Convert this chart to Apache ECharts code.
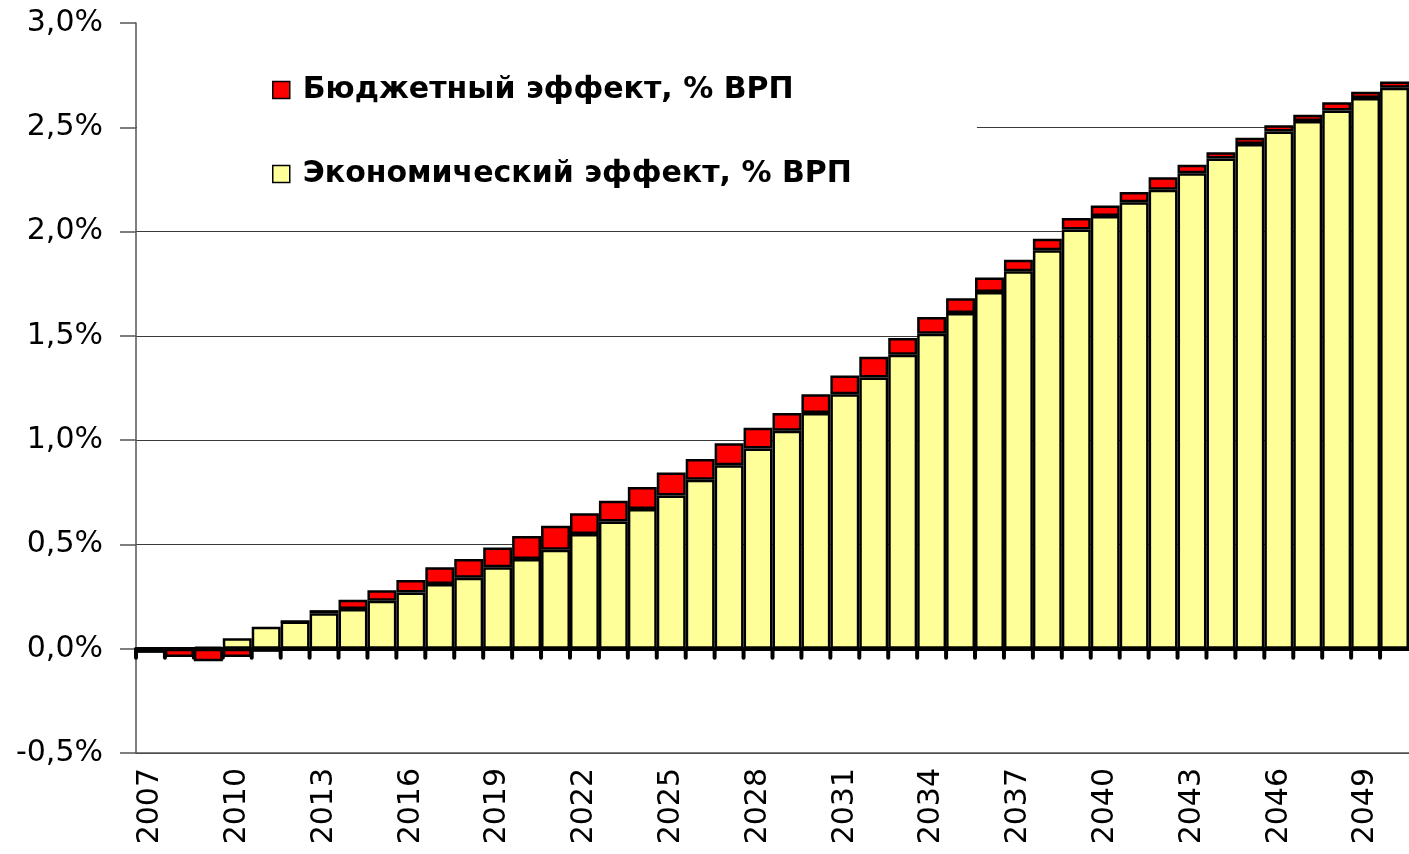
<!DOCTYPE html>
<html>
<head>
<meta charset="utf-8">
<script src="https://cdn.jsdelivr.net/npm/echarts@6/dist/echarts.min.js"></script>
<style>
    html, body {margin: 0; padding: 0; background: #fff;}
    #main {width: 1409px; height: 854px;}
</style>
</head>
<body>
<div id="main"></div>
<script>
// годы
const years = [
    '2007', '2008', '2009', '2010', '2011', '2012', '2013', '2014', '2015', '2016',
    '2017', '2018', '2019', '2020', '2021', '2022', '2023', '2024', '2025', '2026',
    '2027', '2028', '2029', '2030', '2031', '2032', '2033', '2034', '2035', '2036',
    '2037', '2038', '2039', '2040', '2041', '2042', '2043', '2044', '2045', '2046',
    '2047', '2048', '2049', '2050'
];

// Экономический эффект, % ВРП (нижняя часть столбца)
const economic = [
    0, 0, 0.01, 0.05, 0.105, 0.13, 0.17, 0.19, 0.23, 0.27,
    0.31, 0.34, 0.39, 0.43, 0.475, 0.55, 0.61, 0.67, 0.735, 0.81,
    0.88, 0.96, 1.045, 1.13, 1.22, 1.30, 1.41, 1.51, 1.61, 1.71,
    1.81, 1.91, 2.01, 2.075, 2.14, 2.20, 2.28, 2.35, 2.42, 2.48,
    2.53, 2.58, 2.64, 2.69
];

// Бюджетный эффект, % ВРП (верхняя часть столбца)
const budget = [
    -0.02, -0.04, -0.06, -0.04, -0.015, 0, 0.015, 0.045, 0.05, 0.06,
    0.08, 0.09, 0.095, 0.11, 0.115, 0.10, 0.10, 0.105, 0.11, 0.10,
    0.105, 0.10, 0.085, 0.09, 0.09, 0.10, 0.08, 0.08, 0.07, 0.07,
    0.055, 0.055, 0.055, 0.05, 0.05, 0.06, 0.04, 0.03, 0.03, 0.03,
    0.03, 0.04, 0.03, 0.03
];

const budgetName = 'Бюджетный эффект, % ВРП';
const economicName = 'Экономический эффект, % ВРП';

const fontAxis = 'DejaVu Sans';

const chart = echarts.init(document.getElementById('main'));

let option = {
    animation: false,
    backgroundColor: '#fff',
    grid: {left: 136, right: -3, top: 23, bottom: 101},
    legend: {
        data: [budgetName, economicName],
        orient: 'vertical',
        left: 137,
        top: 42,
        padding: [30, 125, 30, 135],
        backgroundColor: '#fff',
        itemGap: 48,
        itemWidth: 17,
        itemHeight: 17,
        icon: 'rect',
        itemStyle: {borderColor: '#000', borderWidth: 1.5},
        textStyle: {
            fontFamily: fontAxis,
            fontWeight: 'bold',
            fontSize: 30,
            lineHeight: 36,
            color: '#000',
            padding: [0, 0, 0, 8]
        }
    },
    xAxis: [
        {
            // подписи лет внизу
            type: 'category',
            data: years,
            position: 'bottom',
            axisLine: {onZero: false, lineStyle: {color: '#555', width: 1.5}},
            axisTick: {show: false},
            axisLabel: {
                interval: 2,
                rotate: 90,
                margin: 15,
                fontFamily: fontAxis,
                fontSize: 30,
                color: '#000'
            },
            splitLine: {show: false}
        },
        {
            // жирная линия нуля
            type: 'category',
            data: years,
            position: 'top',
            z: 5,
            axisLine: {show: true, onZero: true, lineStyle: {color: '#000', width: 4}},
            axisTick: {show: false},
            axisLabel: {show: false},
            splitLine: {show: false}
        }
    ],
    yAxis: {
        type: 'value',
        min: -0.5,
        max: 3.0,
        interval: 0.5,
        axisLine: {show: true, lineStyle: {color: '#555', width: 1.5}},
        axisTick: {show: true, length: 16, lineStyle: {color: '#555', width: 1.5}},
        axisLabel: {
            margin: 33,
            fontFamily: fontAxis,
            fontSize: 30,
            color: '#000',
            formatter: v => v.toFixed(1).replace('.', ',') + '%'
        },
        splitLine: {show: true, showMaxLine: false, lineStyle: {color: '#3a3a3a', width: 1.2}}
    },
    series: [
        {
            name: economicName,
            type: 'bar',
            stack: 'total',
            xAxisIndex: 1,
            barCategoryGap: '0%',
            data: economic,
            itemStyle: {color: '#FFFF99', borderColor: '#000', borderWidth: 2.5}
        },
        {
            name: budgetName,
            type: 'bar',
            stack: 'total',
            xAxisIndex: 1,
            barCategoryGap: '0%',
            data: budget,
            itemStyle: {color: '#FF0000', borderColor: '#000', borderWidth: 2.5}
        }
    ]
};

chart.setOption(option);

// засечки под линией нуля на границах столбцов: позиции берём из шкал графика
const p0 = chart.convertToPixel({xAxisIndex: 1, yAxisIndex: 0}, [0, 0]);
const p1 = chart.convertToPixel({xAxisIndex: 1, yAxisIndex: 0}, [1, 0]);
const band = p1[0] - p0[0];
const ticks = years.map((y, i) => {
    const p = chart.convertToPixel({xAxisIndex: 1, yAxisIndex: 0}, [i, 0]);
    return {
        type: 'rect',
        z: 100,
        silent: true,
        shape: {x: p[0] - band / 2 - 2, y: p[1], width: 4, height: 11, r: 2},
        style: {fill: '#000'}
    };
});
chart.setOption({graphic: ticks});
</script>
</body>
</html>
